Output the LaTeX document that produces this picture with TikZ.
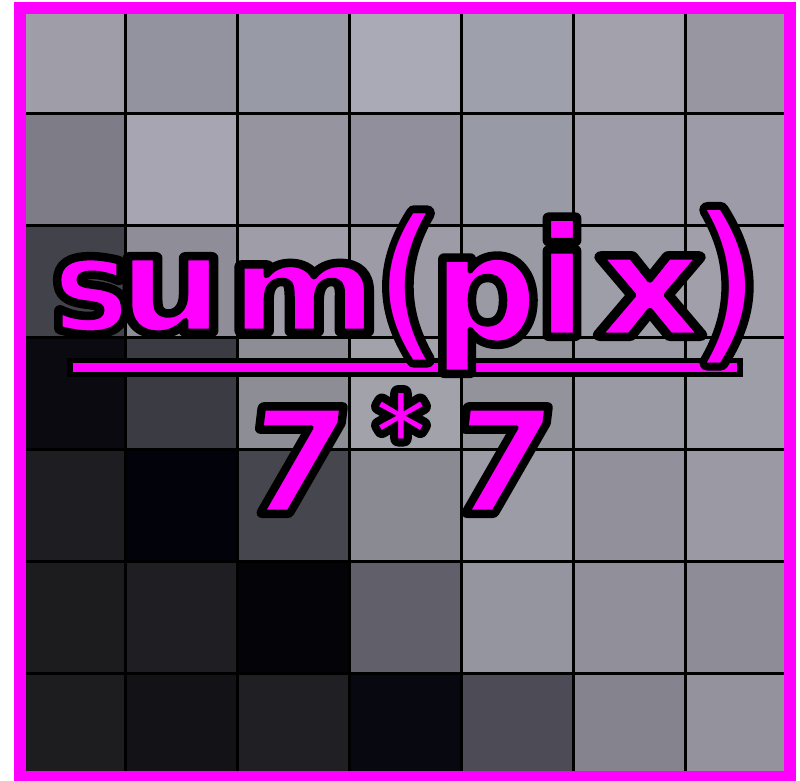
\documentclass[tikz,border=0pt]{standalone}
\usepackage{fontspec}
\newfontfamily\dvs{DejaVu Sans}
\definecolor{mag}{HTML}{FF00FF}
% bold glyph: black outline under, magenta fill, thin black edge on top
\newcommand\olg[1]{{\color{black}\special{pdf:literal direct 1 Tr 12 w 1 j}\rlap{#1}\special{pdf:literal direct 0 Tr}}\rlap{#1}{\color{black}\special{pdf:literal direct 1 Tr 5 w 1 j}#1\special{pdf:literal direct 0 Tr}}}
% light glyph: black outline under, plain magenta fill
\newcommand\olgl[1]{{\color{black}\special{pdf:literal direct 1 Tr 16 w 1 j}\rlap{#1}\special{pdf:literal direct 0 Tr}}#1}
\newcommand\putglyph[5]{\begin{scope}[shift={(#1,#2)}]\node[glyph,#3] at (0,0) {\fontsize{#4}{#4}\selectfont#5};\end{scope}}
\newcommand\cell[3]{\definecolor{cc}{HTML}{#3}\fill[cc] ({13+112*#1},{1+112*#2}) rectangle ++(112,112);}
\tikzset{
  glyph/.style={anchor=base,inner sep=0pt,outer sep=0pt,text=mag,font=\dvs\bfseries,transform shape},
  light/.style={font=\dvs},
  gridline/.style={line width=3bp,black},
  frame/.style={draw=mag,line width=12bp}
}
\begin{document}
\begin{tikzpicture}[x=1bp,y=-1bp]
\useasboundingbox (0,0) rectangle (800,781);
\begin{scope}
\clip (26,14) rectangle (784,773);
% row 0
\cell{0}{0}{9E9DA8}\cell{1}{0}{93929F}\cell{2}{0}{989AA6}\cell{3}{0}{A9AAB6}\cell{4}{0}{9EA0AB}\cell{5}{0}{A2A1AC}\cell{6}{0}{9796A1}
% row 1
\cell{0}{1}{7E7C86}\cell{1}{1}{A6A5B1}\cell{2}{1}{95949F}\cell{3}{1}{918F9C}\cell{4}{1}{989AA6}\cell{5}{1}{9D9CA8}\cell{6}{1}{9C9BA7}
% row 2
\cell{0}{2}{42424B}\cell{1}{2}{8F8E98}\cell{2}{2}{9E9DA8}\cell{3}{2}{9C9BA6}\cell{4}{2}{9A9AA5}\cell{5}{2}{9E9EA9}\cell{6}{2}{A09FAA}
% row 3
\cell{0}{3}{0A0A10}\cell{1}{3}{3B3B44}\cell{2}{3}{8D8D96}\cell{3}{3}{A2A2AB}\cell{4}{3}{93939C}\cell{5}{3}{9A9AA4}\cell{6}{3}{9E9EA8}
% row 4
\cell{0}{4}{1E1E22}\cell{1}{4}{02020A}\cell{2}{4}{46464F}\cell{3}{4}{8A8A93}\cell{4}{4}{9C9CA6}\cell{5}{4}{91909B}\cell{6}{4}{9A99A4}
% row 5
\cell{0}{5}{1C1C1E}\cell{1}{5}{1F1F23}\cell{2}{5}{040308}\cell{3}{5}{615F69}\cell{4}{5}{95959F}\cell{5}{5}{918F9A}\cell{6}{5}{8E8D97}
% row 6
\cell{0}{6}{1D1D1F}\cell{1}{6}{131317}\cell{2}{6}{1F1F24}\cell{3}{6}{080910}\cell{4}{6}{4D4C56}\cell{5}{6}{85848E}\cell{6}{6}{93929D}
\foreach \i in {1,...,6} {
  \draw[gridline] ({13+112*\i},0) -- ({13+112*\i},781);
  \draw[gridline] (0,{1+112*\i}) -- (800,{1+112*\i});
}
\end{scope}
\draw[frame] (20,8) rectangle (790,777);
% fraction bar
\fill[black] (67,358) rectangle (743,377);
\fill[mag] (73,363) rectangle (737,372);
% numerator
\putglyph{91}{331}{}{131}{\olg{s}}
\putglyph{171}{331}{xscale=1.12}{134}{\olg{u}}
\putglyph{304}{331}{xscale=1.2}{119}{\olg{m}}
\putglyph{408}{338}{light}{165}{\olgl{(}}
\putglyph{485}{341}{}{150}{\olg{p}}
\putglyph{562}{335}{}{154}{\olg{i}}
\putglyph{650}{335}{xscale=1.15}{143}{\olg{x}}
\putglyph{727}{340}{light}{172}{\olgl{)}}
% denominator
\putglyph{291}{512}{xslant=0.12}{143}{\olg{7}}
\putglyph{401}{467}{light}{100}{\olgl{*}}
\putglyph{496}{512}{xslant=0.12}{143}{\olg{7}}
\end{tikzpicture}
\end{document}
